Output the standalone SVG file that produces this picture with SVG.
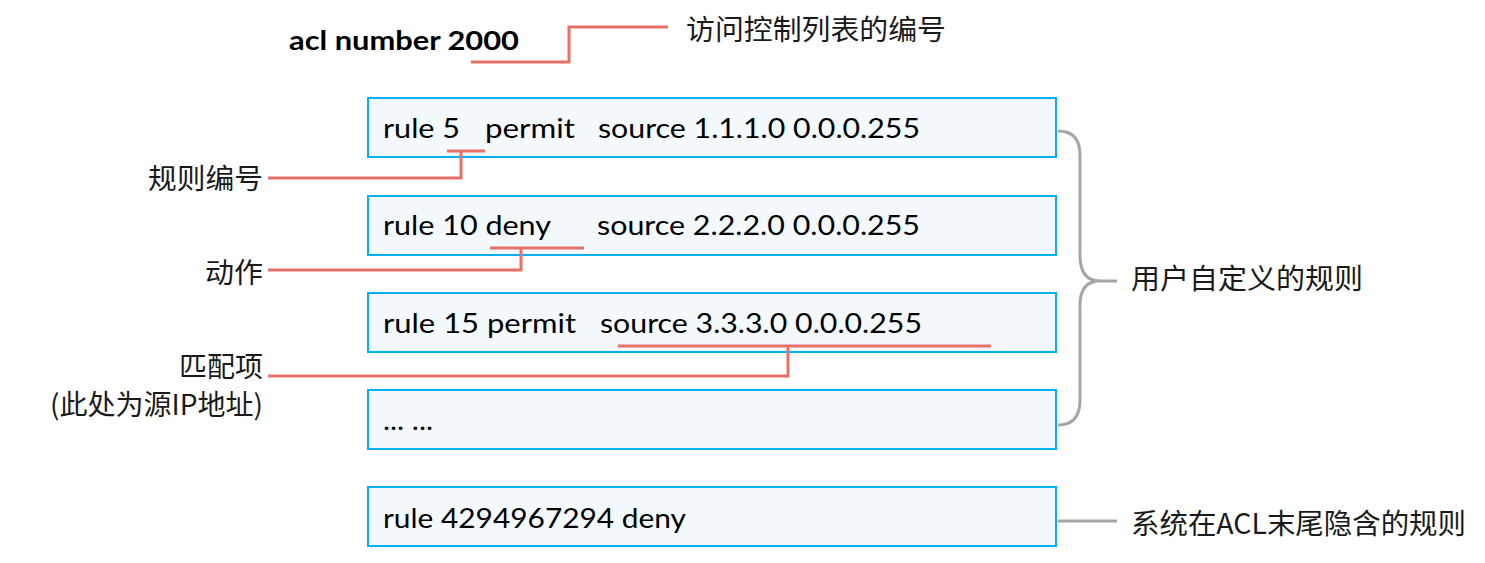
<svg xmlns="http://www.w3.org/2000/svg" width="1485" height="563" viewBox="0 0 1485 563">
<style>
.box{fill:#F3F9FD;stroke:#00B0F0;stroke-width:2}
.t{font-family:Lato,"Noto Sans","Noto Sans CJK SC",sans-serif;font-size:27px;fill:#000}
.cn{font-family:"Noto Sans CJK SC","Noto Sans",sans-serif;font-size:28px;fill:#1a1a1a}
.red{fill:none;stroke:#E8706A;stroke-width:3}
.gray{fill:none;stroke:#A6A6A6;stroke-width:3}
</style>
<rect width="1485" height="563" fill="#fff"/>
<g id="title">
<text class="t" x="289" y="50" font-weight="bold" textLength="230" lengthAdjust="spacingAndGlyphs">acl number 2000</text>
</g>
<g id="label-acl"><text class="cn" x="686" y="40" textLength="260" lengthAdjust="spacingAndGlyphs">访问控制列表的编号</text></g>
<g id="rule5">
<rect class="box" x="368" y="98" width="688" height="59"/>
<text class="t" x="383" y="138" textLength="77" lengthAdjust="spacingAndGlyphs">rule 5</text>
<text class="t" x="485" y="138" textLength="90" lengthAdjust="spacingAndGlyphs">permit</text>
<text class="t" x="598" y="138" textLength="322" lengthAdjust="spacingAndGlyphs">source 1.1.1.0 0.0.0.255</text>
</g>
<g id="rule10">
<rect class="box" x="368" y="196" width="688" height="59"/>
<text class="t" x="383" y="235" textLength="168" lengthAdjust="spacingAndGlyphs">rule 10 deny</text>
<text class="t" x="597" y="235" textLength="323" lengthAdjust="spacingAndGlyphs">source 2.2.2.0 0.0.0.255</text>
</g>
<g id="rule15">
<rect class="box" x="368" y="293" width="688" height="59"/>
<text class="t" x="383" y="333" textLength="193" lengthAdjust="spacingAndGlyphs">rule 15 permit</text>
<text class="t" x="600" y="333" textLength="322" lengthAdjust="spacingAndGlyphs">source 3.3.3.0 0.0.0.255</text>
</g>
<g id="ellipsis">
<rect class="box" x="368" y="390" width="688" height="59"/>
<text class="t" x="383" y="430" textLength="50" lengthAdjust="spacingAndGlyphs">... ...</text>
</g>
<g id="ruleDefault">
<rect class="box" x="368" y="487" width="688" height="59"/>
<text class="t" x="383" y="528" textLength="303" lengthAdjust="spacingAndGlyphs">rule 4294967294 deny</text>
</g>
<g id="label-number"><text class="cn" x="263" y="189" text-anchor="end" textLength="115" lengthAdjust="spacingAndGlyphs">规则编号</text></g>
<g id="label-action"><text class="cn" x="263" y="283" text-anchor="end" textLength="58" lengthAdjust="spacingAndGlyphs">动作</text></g>
<g id="label-match">
<text class="cn" x="263" y="377" text-anchor="end" textLength="84" lengthAdjust="spacingAndGlyphs">匹配项</text>
<text class="cn" x="263" y="415" text-anchor="end" font-size="26" textLength="213" lengthAdjust="spacingAndGlyphs">(此处为源IP地址)</text>
</g>
<g id="label-user"><text class="cn" x="1131" y="289" textLength="232" lengthAdjust="spacingAndGlyphs">用户自定义的规则</text></g>
<g id="label-system"><text class="cn" x="1131" y="534" textLength="335" lengthAdjust="spacingAndGlyphs">系统在ACL末尾隐含的规则</text></g>
<g id="connectors">
<polyline class="red" points="471,62 569,62 569,27 668,27"/>
<path class="red" d="M447,151 H485 M268,178 H461 V151"/>
<path class="red" d="M490,248 H584 M268,270 H521 V248"/>
<path class="red" d="M618,346 H991 M268,376 H788 V346"/>
<path class="gray" d="M1058,131 Q1080,131 1080,155 V255 Q1080,281 1100,281 H1117 M1100,281 Q1080,281 1080,305 V400 Q1080,425 1058,425"/>
<path class="gray" d="M1058,521 H1117"/>
</g>
</svg>
